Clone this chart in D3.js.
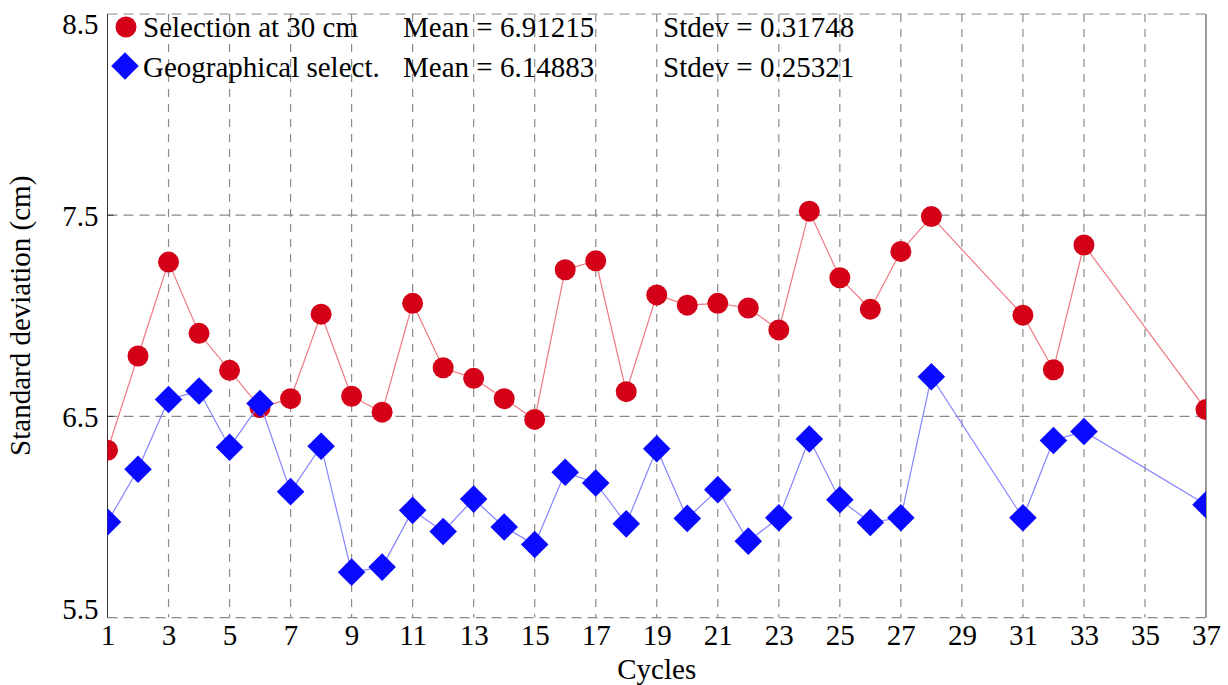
<!DOCTYPE html>
<html><head><meta charset="utf-8">
<script src="https://cdn.jsdelivr.net/npm/d3@7"></script>
<style>body{margin:0;background:#fff}svg{display:block}svg text{font-family:"Liberation Serif","DejaVu Serif",serif !important;fill:#000}</style>
</head><body><svg id="c" width="1228" height="685"></svg>
<script>
const cycles = [1,2,3,4,5,6,7,8,9,10,11,12,13,14,15,16,17,18,19,20,21,22,23,24,25,26,27,28,31,32,33,37];
const selection30 = [6.332,6.80,7.267,6.913,6.729,6.544,6.588,7.008,6.60,6.521,7.062,6.742,6.689,6.588,6.485,7.229,7.273,6.623,7.104,7.053,7.062,7.039,6.93,7.52,7.189,7.033,7.32,7.493,7.003,6.732,7.352,6.534];
const geographical = [5.975,6.237,6.584,6.626,6.347,6.564,6.126,6.352,5.726,5.751,6.033,5.928,6.089,5.95,5.863,6.222,6.169,5.966,6.339,5.993,6.136,5.880,5.996,6.388,6.086,5.973,5.996,6.697,5.996,6.38,6.425,6.061];
const xTicks = [1,3,5,7,9,11,13,15,17,19,21,23,25,27,29,31,33,35,37];
const yTicks = [5.5,6.5,7.5,8.5];
const legendRows = [
  {name:"Selection at 30 cm", mean:"Mean = 6.91215", sd:"Stdev = 0.31748"},
  {name:"Geographical select.", mean:"Mean = 6.14883", sd:"Stdev = 0.25321"}
];

const FS = "29px";
const L=107.5, R=1206, T=14, B=617.6;
const svg = d3.select("#c");
const x = d3.scaleLinear().domain([1,37]).range([L,R]);
const y = d3.scaleLinear().domain([5.5,8.5]).range([B,T]);

svg.append("defs").append("clipPath").attr("id","pc").append("rect")
  .attr("x",L).attr("y",T).attr("width",R-L).attr("height",B-T);

// grid
const g = svg.append("g");
g.selectAll(".vg").data(xTicks.slice(1,-1)).enter().append("line")
  .attr("x1",d=>x(d)).attr("x2",d=>x(d)).attr("y1",T).attr("y2",B)
  .attr("stroke","#8a8a8a").attr("stroke-width",1.2).attr("stroke-dasharray","8,7");
g.selectAll(".hg").data(yTicks).enter().append("line")
  .attr("x1",L).attr("x2",R).attr("y1",d=>y(d)).attr("y2",d=>y(d))
  .attr("stroke","#8a8a8a").attr("stroke-width",1.2).attr("stroke-dasharray","10,6");
// frame
g.append("line").attr("x1",L).attr("x2",L).attr("y1",T).attr("y2",B).attr("stroke","#333").attr("stroke-width",1);
g.append("line").attr("x1",R).attr("x2",R).attr("y1",T).attr("y2",B).attr("stroke","#333").attr("stroke-width",1);
g.selectAll(".yt").data(yTicks.slice(1,-1)).enter().append("line")
  .attr("x1",L).attr("x2",L+6).attr("y1",d=>y(d)).attr("y2",d=>y(d)).attr("stroke","#333");

// axes labels via d3 axes
const xa = svg.append("g").attr("transform",`translate(0,${B})`)
  .call(d3.axisBottom(x).tickValues(xTicks).tickSize(0).tickPadding(7).tickFormat(d3.format("d")));
xa.select(".domain").remove();
xa.attr("font-family",null).attr("font-size",null);
xa.selectAll("text").style("font-size",FS);

const ya = svg.append("g").attr("transform",`translate(${L},0)`)
  .call(d3.axisLeft(y).tickValues(yTicks).tickSize(0).tickPadding(9).tickFormat(d3.format(".1f")));
ya.select(".domain").remove();
ya.attr("font-family",null).attr("font-size",null);
ya.selectAll("text").style("font-size",FS)
  .attr("dy",d=> d===8.5 ? "0.68em" : d===5.5 ? "0.02em" : "0.35em");

svg.append("text").attr("x",(L+R)/2).attr("y",679).attr("text-anchor","middle").style("font-size",FS).text("Cycles");
svg.append("text").attr("transform",`translate(30,${(T+B)/2}) rotate(-90)`).attr("text-anchor","middle").style("font-size",FS).text("Standard deviation (cm)");

// series
const plot = svg.append("g").attr("clip-path","url(#pc)");
const line = d3.line().x(d=>x(d[0])).y(d=>y(d[1]));
const redData = cycles.map((c,i)=>[c,selection30[i]]);
const blueData = cycles.map((c,i)=>[c,geographical[i]]);
const RED="#d40018", BLUE="#0a0aff";
const sym = d3.symbol().type(d3.symbolSquare).size(380);

plot.append("path").datum(redData).attr("d",line).attr("fill","none").attr("stroke","#ee7a84").attr("stroke-width",1.2);
plot.selectAll(".rc").data(redData).enter().append("circle")
  .attr("cx",d=>x(d[0])).attr("cy",d=>y(d[1])).attr("r",10.5).attr("fill",RED);

plot.append("path").datum(blueData).attr("d",line).attr("fill","none").attr("stroke","#8484ff").attr("stroke-width",1.2);
plot.selectAll(".bd").data(blueData).enter().append("path")
  .attr("d",sym).attr("transform",d=>`translate(${x(d[0])},${y(d[1])}) rotate(45)`).attr("fill",BLUE);

// legend
const lg = svg.append("g");
lg.append("circle").attr("cx",126).attr("cy",27).attr("r",10.5).attr("fill",RED);
lg.append("path").attr("d",sym).attr("transform","translate(125,66) rotate(45)").attr("fill",BLUE);
const rowsY=[37,77];
legendRows.forEach((r,i)=>{
  lg.append("text").attr("x",143).attr("y",rowsY[i]).style("font-size",FS).text(r.name);
  lg.append("text").attr("x",403).attr("y",rowsY[i]).style("font-size",FS).text(r.mean);
  lg.append("text").attr("x",663).attr("y",rowsY[i]).style("font-size",FS).text(r.sd);
});
</script></body></html>
